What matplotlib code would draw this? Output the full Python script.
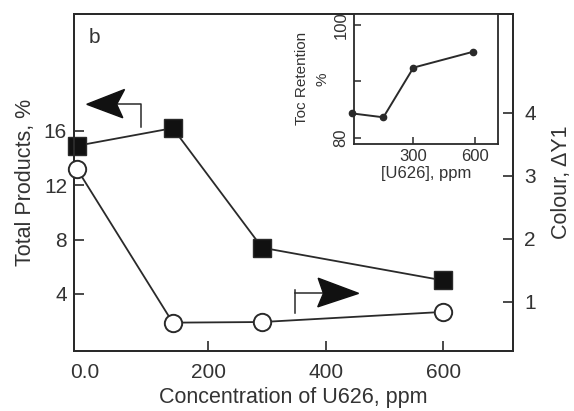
import matplotlib.pyplot as plt
from matplotlib.patches import Polygon

plt.rcParams['font.family'] = ['Liberation Sans', 'DejaVu Sans']

# main panel data
conc = [-23, 140, 292, 599]
total_products = [14.9, 16.2, 7.4, 5.0]
colour_dy1 = [3.11, 0.67, 0.68, 0.84]

# inset data
inset_conc = [0, 154, 300, 589]
toc_retention = [84.3, 83.6, 92.4, 95.2]

ink = '#2a2a2a'
txt = '#333333'

fig = plt.figure(figsize=(5.74, 4.11), dpi=100)
ax = fig.add_axes([0.129, 0.146, 0.765, 0.82])
ax2 = ax.twinx()

ax.plot(conc, total_products, '-s', color=ink, lw=1.3, ms=12.5,
        mfc='#111111', mec=ink, clip_on=False, zorder=3)
ax2.plot(conc, colour_dy1, '-o', color=ink, lw=1.3, ms=12.5,
         mfc='white', mec=ink, mew=1.4, clip_on=False, zorder=3)

ax.set_xlim(-28, 719)
ax.set_ylim(-0.2, 24.6)
ax2.set_ylim(0.22, 5.57)

ax.set_xticks([-9, 200, 400, 600], ['0.0', '200', '400', '600'])
ax.xaxis.get_major_ticks()[0].tick1line.set_visible(False)
ax.set_yticks([4, 8, 12, 16])
ax2.set_yticks([1, 2, 3, 4])

for a in (ax, ax2):
    a.tick_params(direction='in', length=7, width=1.2, colors=ink,
                  labelcolor=txt, labelsize=15, pad=5)
    for s in a.spines.values():
        s.set_color(ink)
        s.set_linewidth(1.4)
ax.tick_params(axis='x', pad=9)
ax2.tick_params(axis='y', pad=8)

ax.set_xlabel('Concentration of U626, ppm', fontsize=15.5, color=txt, labelpad=3)
ax.set_ylabel('Total Products, %', fontsize=15.5, color=txt, labelpad=6)
ax2.set_ylabel('Colour, \u0394Y1', fontsize=15.5, color=txt, labelpad=11)

ax.text(0.047, 0.93, 'b', transform=ax.transAxes, fontsize=15,
        color=txt, ha='center', va='center')

# direction arrows (axes fraction)
ax.add_patch(Polygon([(0.029, 0.732), (0.115, 0.776), (0.097, 0.732),
                      (0.111, 0.692)], closed=True, transform=ax.transAxes,
                     facecolor='#111111', edgecolor='#111111', zorder=4))
ax.plot([0.097, 0.153, 0.153], [0.732, 0.732, 0.665], color=ink, lw=1.1,
        transform=ax.transAxes)
ax.add_patch(Polygon([(0.648, 0.171), (0.556, 0.216), (0.568, 0.171),
                      (0.555, 0.131)], closed=True, transform=ax.transAxes,
                     facecolor='#111111', edgecolor='#111111', zorder=4))
ax.plot([0.503, 0.568], [0.171, 0.171], color=ink, lw=1.1,
        transform=ax.transAxes)
ax.plot([0.503, 0.503], [0.181, 0.113], color=ink, lw=1.1,
        transform=ax.transAxes)

# inset
ins = fig.add_axes([0.617, 0.650, 0.251, 0.316])
ins.plot(inset_conc, toc_retention, '-o', color=ink, lw=1.4, ms=4.5,
         clip_on=False, zorder=3)
ins.set_xlim(12, 712)
ins.set_ylim(78.9, 101.9)
ins.set_xticks([300, 600])
ins.set_yticks([80, 90, 100], ['80', '', '100'])
ins.tick_params(direction='in', length=5, width=1.1, colors=ink,
                labelcolor=txt, labelsize=12, pad=4)
for lab in ins.get_yticklabels():
    lab.set_rotation(90)
    lab.set_va('center')
for s in ins.spines.values():
    s.set_color(ink)
    s.set_linewidth(1.3)
ins.set_xlabel('[U626], ppm', fontsize=12, color=txt, labelpad=1)
ins.set_ylabel('Toc Retention\n%', fontsize=11, color=txt, labelpad=3,
               linespacing=1.6)

fig.savefig('out.png', dpi=100)
